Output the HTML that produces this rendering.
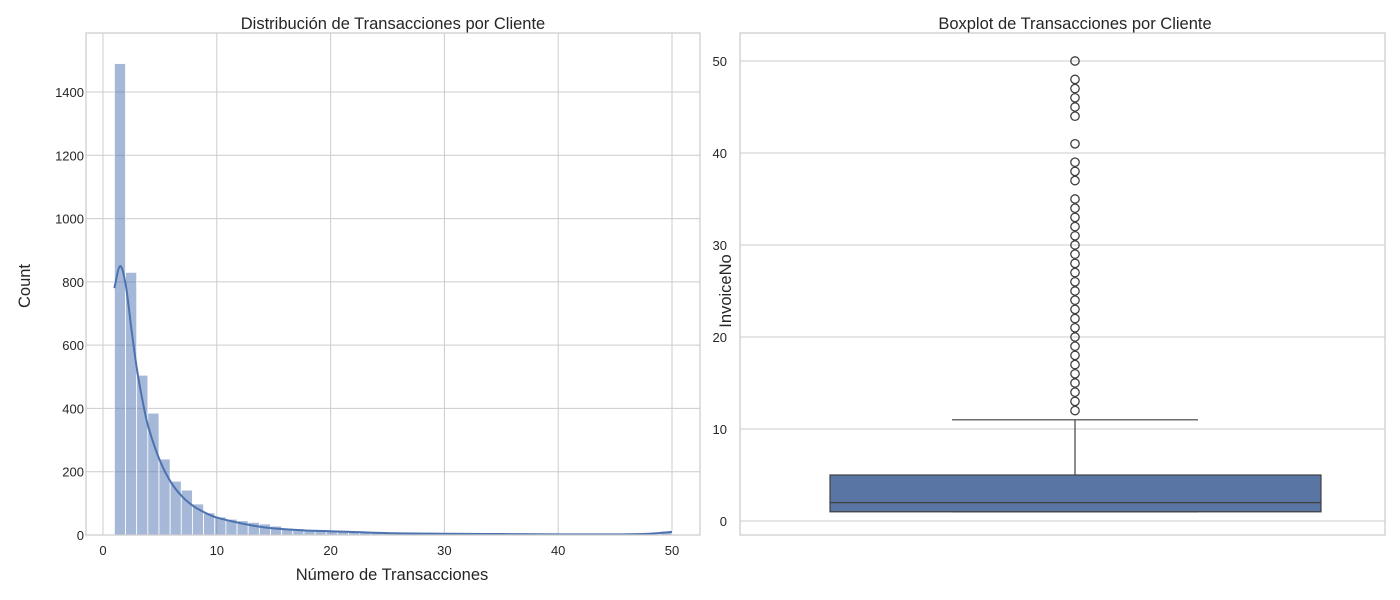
<!DOCTYPE html>
<html><head><meta charset="utf-8"><style>
body{margin:0;background:#fff}
svg{display:block;font-family:"Liberation Sans",Arial,sans-serif}
</style></head><body>
<svg id="chart" width="1400" height="600" xmlns="http://www.w3.org/2000/svg"></svg>
<script>
// ---- Histogram data (bins of width 0.98 from 1 to 50) ----
const histCounts = [1490,830,505,385,240,170,142,98,70,57,50,45,40,35,28,22,20,15,14,13,12,10,8,7,6,6,5,5,5,4,4,4,3,3,3,3,3,3,3,3,2,2,2,2,2,2,2,2,3,12];
const kdeX = [1,1.5,2,2.5,3,3.5,4,5,6,7,8,9,10,12,14,16,18,20,25,30,35,40,45,48,50];
const kdeY = [780,850,790,650,520,420,340,235,165,120,90,70,55,38,25,18,14,12,6,4,3,2,2,4,10];
const histXTicks = [0,10,20,30,40,50];
const histYTicks = [0,200,400,600,800,1000,1200,1400];
// ---- Boxplot data ----
const boxStats = {q1:1, median:2, q3:5, whiskerLow:1, whiskerHigh:11};
const outliers = [12,13,14,15,16,17,18,19,20,21,22,23,24,25,26,27,28,29,30,31,32,33,34,35,37,38,39,41,44,45,46,47,48,50];
const boxYTicks = [0,10,20,30,40,50];

const NS="http://www.w3.org/2000/svg";
const svg=document.getElementById('chart');
function mk(tag,attrs,parent){const e=document.createElementNS(NS,tag);for(const k in attrs)e.setAttribute(k,attrs[k]);(parent||svg).appendChild(e);return e;}
const TXT='#262626';

// ===== Left panel =====
const L={x0:86,x1:700,y0:33,y1:535};
const hx=v=>103+v*(672-103)/50;
const hy=v=>535-v*(535-92)/1400;
const gL=mk('g',{});


histXTicks.forEach(t=>{
  const l=mk('line',{x1:hx(t),x2:hx(t),y1:L.y0,y2:L.y1,stroke:'#cccccc','stroke-width':1},gL);
  
  
  const tx=mk('text',{x:hx(t),y:555,'text-anchor':'middle','font-size':13,fill:TXT},gL);
  tx.textContent=t;
  
  
});
histYTicks.forEach(t=>{
  const l=mk('line',{x1:L.x0,x2:L.x1,y1:hy(t),y2:hy(t),stroke:'#cccccc','stroke-width':1},gL);
  
  
  const tx=mk('text',{x:84,y:hy(t)+5,'text-anchor':'end','font-size':13,fill:TXT},gL);
  tx.textContent=t;
  
  
});
const bw=0.98;
histCounts.forEach((c,i)=>{
  const a=1+i*bw,b=a+bw;
  const r=mk('rect',{x:hx(a),y:hy(c),width:hx(b)-hx(a),height:hy(0)-hy(c),fill:'#4c72b0','fill-opacity':0.5,stroke:'#ffffff','stroke-width':0.8},gL);
  
  
});
let pts=kdeX.map((x,i)=>[hx(x),hy(kdeY[i])]);
let d='M'+pts[0][0]+','+pts[0][1];
for(let i=0;i<pts.length-1;i++){
  const p0=pts[Math.max(0,i-1)],p1=pts[i],p2=pts[i+1],p3=pts[Math.min(pts.length-1,i+2)];
  const c1=[p1[0]+(p2[0]-p0[0])/6,p1[1]+(p2[1]-p0[1])/6],c2=[p2[0]-(p3[0]-p1[0])/6,p2[1]-(p3[1]-p1[1])/6];
  d+=` C${c1[0]},${c1[1]} ${c2[0]},${c2[1]} ${p2[0]},${p2[1]}`;
}
const kde=mk('path',{d:d,fill:'none',stroke:'#4c72b0','stroke-width':2},gL);


const fL=mk('rect',{x:L.x0,y:L.y0,width:L.x1-L.x0,height:L.y1-L.y0,fill:'none',stroke:'#cccccc','stroke-width':1.25},gL);


const tL=mk('text',{x:393,y:29,'text-anchor':'middle','font-size':16.5,fill:TXT},gL);
tL.textContent='Distribución de Transacciones por Cliente';


const xl=mk('text',{x:392,y:580,'text-anchor':'middle','font-size':16.5,fill:TXT},gL);
xl.textContent='Número de Transacciones';


const yl=mk('text',{x:30,y:286,'text-anchor':'middle','font-size':16.5,fill:TXT,transform:'rotate(-90 30 286)'},gL);
yl.textContent='Count';



// ===== Right panel =====
const R={x0:740,x1:1385,y0:33,y1:535};
const by=v=>521-v*(521-61)/50;
const gR=mk('g',{});


boxYTicks.forEach(t=>{
  const l=mk('line',{x1:R.x0,x2:R.x1,y1:by(t),y2:by(t),stroke:'#cccccc','stroke-width':1},gR);
  
  
  const tx=mk('text',{x:727,y:by(t)+5,'text-anchor':'end','font-size':13,fill:TXT},gR);
  tx.textContent=t;
  
  
});
const cx=1075;
const wl=mk('line',{x1:cx,x2:cx,y1:by(boxStats.q3),y2:by(boxStats.whiskerHigh),stroke:'#3f3f3f','stroke-width':1.2},gR);


const cap=mk('line',{x1:952,x2:1198,y1:by(boxStats.whiskerHigh),y2:by(boxStats.whiskerHigh),stroke:'#3f3f3f','stroke-width':1.2},gR);


const capL=mk('line',{x1:952,x2:1198,y1:by(boxStats.whiskerLow),y2:by(boxStats.whiskerLow),stroke:'#3f3f3f','stroke-width':1.2},gR);


const box=mk('rect',{x:830,y:by(boxStats.q3),width:491,height:by(boxStats.q1)-by(boxStats.q3),fill:'#5875a4',stroke:'#3f3f3f','stroke-width':1.2},gR);


const med=mk('line',{x1:830,x2:1321,y1:by(boxStats.median),y2:by(boxStats.median),stroke:'#3f3f3f','stroke-width':1.2},gR);


outliers.forEach(v=>{
  const c=mk('circle',{cx:cx,cy:by(v),r:4.2,fill:'none',stroke:'#3f3f3f','stroke-width':1.3},gR);
  
  
});
const fR=mk('rect',{x:R.x0,y:R.y0,width:R.x1-R.x0,height:R.y1-R.y0,fill:'none',stroke:'#cccccc','stroke-width':1.25},gR);


const tR=mk('text',{x:1075,y:29,'text-anchor':'middle','font-size':16.5,fill:TXT},gR);
tR.textContent='Boxplot de Transacciones por Cliente';


const yR=mk('text',{x:731,y:291,'text-anchor':'middle','font-size':16.5,fill:TXT,transform:'rotate(-90 731 291)'},gR);
yR.textContent='InvoiceNo';


</script>
</body></html>
